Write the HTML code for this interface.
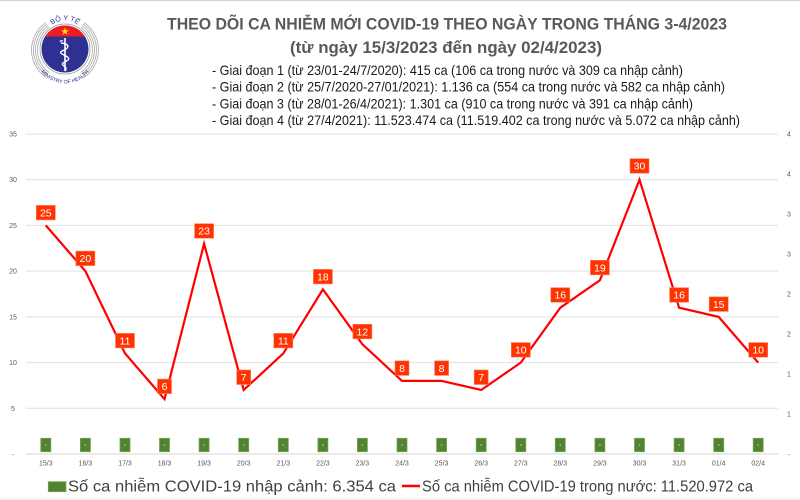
<!DOCTYPE html>
<html><head><meta charset="utf-8"><style>
html,body{margin:0;padding:0;background:#fff;}
svg{display:block;}
text{font-family:"Liberation Sans",Arial,sans-serif;}
</style></head><body>
<svg width="800" height="500" viewBox="0 0 800 500" xmlns="http://www.w3.org/2000/svg">
<rect x="0" y="0" width="800" height="500" fill="#fff"/>
<line x1="0" y1="0.5" x2="800" y2="0.5" stroke="#d0d0d0" stroke-width="1"/>
<line x1="0" y1="499" x2="800" y2="499" stroke="#e6e6e6" stroke-width="1"/>

<!-- Logo -->
<g>
  <circle cx="65" cy="50" r="27.5" fill="none" stroke="#a6a6a6" stroke-width="0.8" pathLength="360" stroke-dasharray="55 70 110 70 55"/>
  <circle cx="65" cy="50" r="29.5" fill="none" stroke="#a6a6a6" stroke-width="0.8" pathLength="360" stroke-dasharray="55 70 110 70 55"/>
  <circle cx="65" cy="50" r="31.5" fill="none" stroke="#a6a6a6" stroke-width="0.8" pathLength="360" stroke-dasharray="55 70 110 70 55"/>
  <circle cx="65" cy="50" r="33.5" fill="none" stroke="#a6a6a6" stroke-width="0.8" pathLength="360" stroke-dasharray="55 70 110 70 55"/>
  <circle cx="65" cy="49" r="25" fill="#fff" stroke="#9a9a9a" stroke-width="0.8"/>
  <circle cx="65" cy="49" r="23.5" fill="#2e3192"/>
  <clipPath id="topclip"><rect x="30" y="10" width="70" height="26.5"/></clipPath>
  <circle cx="65" cy="49" r="23.5" fill="#ed1c24" clip-path="url(#topclip)"/>
  <polygon points="65,27.5 66,30.3 69,30.3 66.6,32 67.5,34.8 65,33.1 62.5,34.8 63.4,32 61,30.3 64,30.3" fill="#ffde00"/>
  <line x1="65" y1="38" x2="65" y2="71" stroke="#fff" stroke-width="1.6"/>
  <path d="M61,43 C70,44 70,48 62,51 C56,54 72,56 68,60 C64,63 60,63 64,66 C67,68 66,70 65,71" fill="none" stroke="#fff" stroke-width="1.4"/>
  <path d="M60,42 q1,-2 3,-1" fill="none" stroke="#fff" stroke-width="1.2"/>
  <path id="toparc" d="M50,27 A20,20 0 0 1 80,27" fill="none"/>
  <text font-size="7" fill="#2e3192" font-family="Liberation Serif,serif"><textPath href="#toparc" startOffset="50%" text-anchor="middle">BỘ Y TẾ</textPath></text>
  <path id="botarc" d="M40,70 A30,30 0 0 0 90,70" fill="none"/>
  <text font-size="5.2" fill="#2e3192" font-family="Liberation Serif,serif"><textPath href="#botarc" startOffset="50%" text-anchor="middle">MINISTRY OF HEALTH</textPath></text>
</g>

<!-- Titles -->
<text x="167" y="29.5" font-size="17" font-weight="bold" fill="#595959" textLength="560" lengthAdjust="spacingAndGlyphs">THEO DÕI CA NHIỄM MỚI COVID-19 THEO NGÀY TRONG THÁNG 3-4/2023</text>
<text x="290" y="53" font-size="17" font-weight="bold" fill="#595959" textLength="312" lengthAdjust="spacingAndGlyphs">(từ ngày 15/3/2023 đến ngày 02/4/2023)</text>

<text x="212" y="75" font-size="14" fill="#1a1a1a" textLength="471" lengthAdjust="spacingAndGlyphs">- Giai đoạn 1 (từ 23/01-24/7/2020): 415 ca (106 ca trong nước và 309 ca nhập cảnh)</text>
<text x="212" y="91.7" font-size="14" fill="#1a1a1a" textLength="513" lengthAdjust="spacingAndGlyphs">- Giai đoạn 2 (từ 25/7/2020-27/01/2021): 1.136 ca (554 ca trong nước và 582 ca nhập cảnh)</text>
<text x="212" y="108.3" font-size="14" fill="#1a1a1a" textLength="481" lengthAdjust="spacingAndGlyphs">- Giai đoạn 3 (từ 28/01-26/4/2021): 1.301 ca (910 ca trong nước và 391 ca nhập cảnh)</text>
<text x="212" y="125" font-size="14" fill="#1a1a1a" textLength="528" lengthAdjust="spacingAndGlyphs">- Giai đoạn 4 (từ 27/4/2021): 11.523.474 ca (11.519.402 ca trong nước và 5.072 ca nhập cảnh)</text>

<!-- Gridlines -->
<g stroke="#e0e0e0" stroke-width="1">
  <line x1="26" y1="134" x2="778" y2="134"/>
  <line x1="26" y1="179.7" x2="778" y2="179.7"/>
  <line x1="26" y1="225.4" x2="778" y2="225.4"/>
  <line x1="26" y1="271.1" x2="778" y2="271.1"/>
  <line x1="26" y1="316.9" x2="778" y2="316.9"/>
  <line x1="26" y1="362.6" x2="778" y2="362.6"/>
  <line x1="26" y1="408.3" x2="778" y2="408.3"/>
  <line x1="26" y1="454" x2="778" y2="454" stroke="#d6d6d6"/>
</g>

<!-- Left axis -->
<g font-size="7" fill="#595959" text-anchor="middle">
  <text x="13" y="136.5">35</text>
  <text x="13" y="182.2">30</text>
  <text x="13" y="227.9">25</text>
  <text x="13" y="273.6">20</text>
  <text x="13" y="319.4">15</text>
  <text x="13" y="365.1">10</text>
  <text x="13" y="410.8">5</text>
  <text x="13" y="456.5">-</text>
</g>
<!-- Right axis -->
<g font-size="7" fill="#595959" text-anchor="middle">
  <text x="789" y="136.5">4</text>
  <text x="789" y="176.5">4</text>
  <text x="789" y="216.5">3</text>
  <text x="789" y="256.5">3</text>
  <text x="789" y="296.5">2</text>
  <text x="789" y="336.5">2</text>
  <text x="789" y="376.5">1</text>
  <text x="789" y="416.5">1</text>
  <text x="789" y="456.5">-</text>
</g>

<!-- Bars -->
<g fill="#548235" stroke="#6fa84a" stroke-width="0.8">
  <rect x="40.8" y="438.3" width="10" height="13.4"/>
  <rect x="80.4" y="438.3" width="10" height="13.4"/>
  <rect x="120" y="438.3" width="10" height="13.4"/>
  <rect x="159.5" y="438.3" width="10" height="13.4"/>
  <rect x="199.1" y="438.3" width="10" height="13.4"/>
  <rect x="238.7" y="438.3" width="10" height="13.4"/>
  <rect x="278.3" y="438.3" width="10" height="13.4"/>
  <rect x="317.9" y="438.3" width="10" height="13.4"/>
  <rect x="357.4" y="438.3" width="10" height="13.4"/>
  <rect x="397" y="438.3" width="10" height="13.4"/>
  <rect x="436.6" y="438.3" width="10" height="13.4"/>
  <rect x="476.2" y="438.3" width="10" height="13.4"/>
  <rect x="515.8" y="438.3" width="10" height="13.4"/>
  <rect x="555.3" y="438.3" width="10" height="13.4"/>
  <rect x="594.9" y="438.3" width="10" height="13.4"/>
  <rect x="634.5" y="438.3" width="10" height="13.4"/>
  <rect x="674.1" y="438.3" width="10" height="13.4"/>
  <rect x="713.7" y="438.3" width="10" height="13.4"/>
  <rect x="753.2" y="438.3" width="10" height="13.4"/>
</g>
<g stroke="#e8f0e0" stroke-width="0.8">
  <line x1="45" y1="445" x2="46.6" y2="445"/>
  <line x1="84.6" y1="445" x2="86.2" y2="445"/>
  <line x1="124.2" y1="445" x2="125.8" y2="445"/>
  <line x1="163.7" y1="445" x2="165.3" y2="445"/>
  <line x1="203.3" y1="445" x2="204.9" y2="445"/>
  <line x1="242.9" y1="445" x2="244.5" y2="445"/>
  <line x1="282.5" y1="445" x2="284.1" y2="445"/>
  <line x1="322.1" y1="445" x2="323.7" y2="445"/>
  <line x1="361.6" y1="445" x2="363.2" y2="445"/>
  <line x1="401.2" y1="445" x2="402.8" y2="445"/>
  <line x1="440.8" y1="445" x2="442.4" y2="445"/>
  <line x1="480.4" y1="445" x2="482" y2="445"/>
  <line x1="520" y1="445" x2="521.6" y2="445"/>
  <line x1="559.5" y1="445" x2="561.1" y2="445"/>
  <line x1="599.1" y1="445" x2="600.7" y2="445"/>
  <line x1="638.7" y1="445" x2="640.3" y2="445"/>
  <line x1="678.3" y1="445" x2="679.9" y2="445"/>
  <line x1="717.9" y1="445" x2="719.5" y2="445"/>
  <line x1="757.4" y1="445" x2="759" y2="445"/>
</g>

<!-- X labels -->
<g font-size="7" fill="#595959" text-anchor="middle">
  <text x="45.8" y="465.5">15/3</text>
  <text x="85.4" y="465.5">16/3</text>
  <text x="125" y="465.5">17/3</text>
  <text x="164.5" y="465.5">18/3</text>
  <text x="204.1" y="465.5">19/3</text>
  <text x="243.7" y="465.5">20/3</text>
  <text x="283.3" y="465.5">21/3</text>
  <text x="322.9" y="465.5">22/3</text>
  <text x="362.4" y="465.5">23/3</text>
  <text x="402" y="465.5">24/3</text>
  <text x="441.6" y="465.5">25/3</text>
  <text x="481.2" y="465.5">26/3</text>
  <text x="520.8" y="465.5">27/3</text>
  <text x="560.3" y="465.5">28/3</text>
  <text x="599.9" y="465.5">29/3</text>
  <text x="639.5" y="465.5">30/3</text>
  <text x="679.1" y="465.5">31/3</text>
  <text x="718.7" y="465.5">01/4</text>
  <text x="758.2" y="465.5">02/4</text>
</g>

<!-- Line -->
<polyline fill="none" stroke="#ff0000" stroke-width="2.2" stroke-linejoin="miter"
 points="45.8,225.4 85.4,271.1 125,353.4 164.5,399.1 204.1,243.7 243.7,390 283.3,353.4 322.9,289.4 362.4,344.3 402,380.9 441.6,380.9 481.2,390 520.8,362.6 560.3,307.7 599.9,280.3 639.5,179.7 679.1,307.7 718.7,316.9 758.2,362.6"/>

<!-- Data labels -->
<g fill="#ff3300" stroke="#ff7a5c" stroke-width="0.6">
  <rect x="36.3" y="205.4" width="19" height="14.5"/>
  <rect x="75.9" y="251.1" width="19" height="14.5"/>
  <rect x="115.5" y="333.4" width="19" height="14.5"/>
  <rect x="157.5" y="379.1" width="14" height="14.5"/>
  <rect x="194.6" y="223.7" width="19" height="14.5"/>
  <rect x="236.7" y="370" width="14" height="14.5"/>
  <rect x="273.8" y="333.4" width="19" height="14.5"/>
  <rect x="313.4" y="269.4" width="19" height="14.5"/>
  <rect x="352.9" y="324.3" width="19" height="14.5"/>
  <rect x="395" y="360.9" width="14" height="14.5"/>
  <rect x="434.6" y="360.9" width="14" height="14.5"/>
  <rect x="474.2" y="370" width="14" height="14.5"/>
  <rect x="511.3" y="342.6" width="19" height="14.5"/>
  <rect x="550.8" y="287.7" width="19" height="14.5"/>
  <rect x="590.4" y="260.3" width="19" height="14.5"/>
  <rect x="630" y="158.7" width="19" height="14.5"/>
  <rect x="669.6" y="287.7" width="19" height="14.5"/>
  <rect x="709.2" y="296.9" width="19" height="14.5"/>
  <rect x="748.7" y="342.6" width="19" height="14.5"/>
</g>
<g font-size="10.5" fill="#fff" text-anchor="middle">
  <text x="45.8" y="216.4">25</text>
  <text x="85.4" y="262.1">20</text>
  <text x="125" y="344.4">11</text>
  <text x="164.5" y="390.1">6</text>
  <text x="204.1" y="234.7">23</text>
  <text x="243.7" y="381">7</text>
  <text x="283.3" y="344.4">11</text>
  <text x="322.9" y="280.4">18</text>
  <text x="362.4" y="335.3">12</text>
  <text x="402" y="371.9">8</text>
  <text x="441.6" y="371.9">8</text>
  <text x="481.2" y="381">7</text>
  <text x="520.8" y="353.6">10</text>
  <text x="560.3" y="298.7">16</text>
  <text x="599.9" y="271.3">19</text>
  <text x="639.5" y="169.7">30</text>
  <text x="679.1" y="298.7">16</text>
  <text x="718.7" y="307.9">15</text>
  <text x="758.2" y="353.6">10</text>
</g>

<!-- Legend -->
<rect x="48.3" y="481.7" width="17.7" height="10" fill="#548235" stroke="#70ad47" stroke-width="0.8"/>
<text x="68" y="491.5" font-size="16" fill="#404040" textLength="328" lengthAdjust="spacingAndGlyphs">Số ca nhiễm COVID-19 nhập cảnh: 6.354 ca</text>
<line x1="402" y1="486" x2="420" y2="486" stroke="#ff0000" stroke-width="2.5"/>
<text x="422" y="491.5" font-size="16" fill="#404040" textLength="331" lengthAdjust="spacingAndGlyphs">Số ca nhiễm COVID-19 trong nước: 11.520.972 ca</text>
</svg>
</body></html>
